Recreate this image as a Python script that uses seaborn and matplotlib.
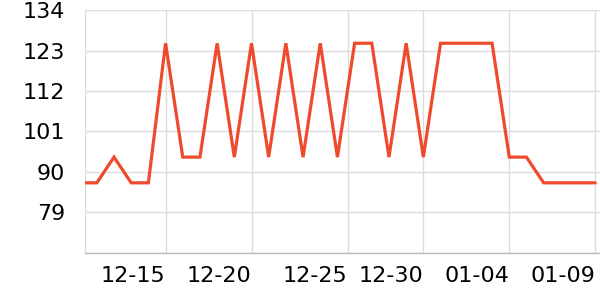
import matplotlib
matplotlib.use("Agg")
import matplotlib.pyplot as plt
import seaborn as sns
import pandas as pd

# ---- data ----
dates = pd.date_range("2023-12-10", "2024-01-09", freq="D")
values = [87, 87, 94, 87, 87,
          125, 94, 94, 125, 94,
          125, 94, 125, 94, 125,
          94, 125, 125, 94, 125,
          94, 125, 125, 125, 125,
          94, 94, 87, 87, 87,
          87]
tick_dates = ["2023-12-15", "2023-12-20", "2023-12-25 14:24", "2023-12-30",
              "2024-01-04", "2024-01-09"]
tick_labels = ["12-15", "12-20", "12-25", "12-30", "01-04", "01-09"]
y_ticks = [68, 79, 90, 101, 112, 123, 134]
y_labels = ["", "79", "90", "101", "112", "123", "134"]

df = pd.DataFrame({"date": dates, "value": values})

sns.set_theme(style="white")
plt.rcParams["font.family"] = ["DejaVu Sans"]

fig = plt.figure(figsize=(6, 3), dpi=100)
ax = fig.add_axes([0.1425, 0.158, 0.8575, 0.808])

sns.lineplot(data=df, x="date", y="value", ax=ax, color="#ee4a2c",
             linewidth=2.3, solid_joinstyle="miter")

x0 = pd.Timestamp("2023-12-15") - pd.Timedelta(days=4.66)
x1 = pd.Timestamp("2023-12-15") + pd.Timedelta(days=25.28)
ax.set_xlim(x0, x1)
ax.set_ylim(68, 134)

xt = [x0] + [pd.Timestamp(d) for d in tick_dates]
ax.set_xticks(xt)
ax.set_xticklabels([""] + tick_labels, fontsize=16, color="#000000", ha="right")
ax.set_yticks(y_ticks)
ax.set_yticklabels(y_labels, fontsize=16, color="#000000")

ax.grid(True, color="#dcdcdc", linewidth=1)
ax.tick_params(axis="x", length=3, color="#cccccc", width=1, pad=7)
ax.tick_params(axis="y", length=0, pad=14.5)
for s in ["top", "right", "left"]:
    ax.spines[s].set_visible(False)
ax.spines["bottom"].set_color("#bbbbbb")
ax.spines["bottom"].set_linewidth(1)
ax.set_xlabel("")
ax.set_ylabel("")

fig.savefig("out.png", dpi=100)
